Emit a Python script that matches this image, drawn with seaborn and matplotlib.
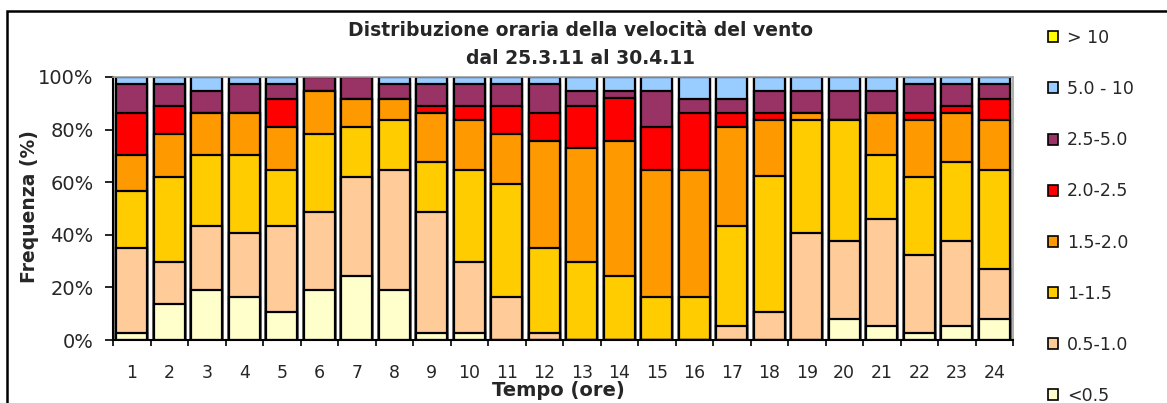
'''
Distribuzione oraria della velocita del vento - barre in pila al 100%
'''

import pandas as pd
import numpy as np
import matplotlib
matplotlib.use('Agg')
import matplotlib.pyplot as plt
from matplotlib.patches import Patch, Rectangle
from matplotlib.ticker import FixedLocator, PercentFormatter
import seaborn as sns

# --------------------------------------------------
# Dati (percentuali, 37 giorni)
# --------------------------------------------------

hours = [str(h) for h in range(1, 25)]

lt_05 = [2.7, 13.5, 18.9, 16.2, 10.8, 18.9, 24.3, 18.9, 2.7, 2.7, 0, 0,
         0, 0, 0, 0, 0, 0, 0, 8.1, 5.4, 2.7, 5.4, 8.1]
v05_10 = [32.4, 16.2, 24.3, 24.3, 32.4, 29.7, 37.8, 45.9, 45.9, 27.0, 16.2, 2.7,
          0, 0, 0, 0, 5.4, 10.8, 40.5, 29.7, 40.5, 29.7, 32.4, 18.9]
v10_15 = [21.6, 32.4, 27.0, 29.7, 21.6, 29.7, 18.9, 18.9, 18.9, 35.1, 43.2, 32.4,
          29.7, 24.3, 16.2, 16.2, 37.8, 51.4, 43.2, 45.9, 24.3, 29.7, 29.7, 37.8]
v15_20 = [13.5, 16.2, 16.2, 16.2, 16.2, 16.2, 10.8, 8.1, 18.9, 18.9, 18.9, 40.5,
          43.2, 51.4, 48.6, 48.6, 37.8, 21.6, 2.7, 0, 16.2, 21.6, 18.9, 18.9]
v20_25 = [16.2, 10.8, 0, 0, 10.8, 0, 0, 0, 2.7, 5.4, 10.8, 10.8,
          16.2, 16.2, 16.2, 21.6, 5.4, 2.7, 0, 0, 0, 2.7, 2.7, 8.1]
v25_50 = [10.8, 8.1, 8.1, 10.8, 5.4, 5.4, 8.1, 5.4, 8.1, 8.1, 8.1, 10.8,
          5.4, 2.7, 13.5, 5.4, 5.4, 8.1, 8.1, 10.8, 8.1, 10.8, 8.1, 5.4]
v50_10 = [2.7, 2.7, 5.4, 2.7, 2.7, 0, 0, 2.7, 2.7, 2.7, 2.7, 2.7,
          5.4, 5.4, 5.4, 8.1, 8.1, 5.4, 5.4, 5.4, 5.4, 2.7, 2.7, 2.7]
gt_10 = [0] * 24

series_labels = ['<0.5', '0.5-1.0', '1-1.5', '1.5-2.0', '2.0-2.5', '2.5-5.0', '5.0 - 10', '> 10']
series_values = [lt_05, v05_10, v10_15, v15_20, v20_25, v25_50, v50_10, gt_10]
series_colors = ['#FFFFCC', '#FFCC99', '#FFCC00', '#FF9900', '#FF0000', '#993366', '#99CCFF', '#FFFF00']

# dataframe con le somme cumulate per costruire la pila
df = pd.DataFrame(dict(zip(series_labels, series_values)), index=hours)
cum = df.cumsum(axis=1).clip(upper=100)

# --------------------------------------------------
# Grafico
# --------------------------------------------------

sns.set_theme(style='white')
plt.rcParams['font.family'] = ['DejaVu Sans']

fig = plt.figure(figsize=(11.67, 4.03), dpi=100)
ax = fig.add_axes([113 / 1167, 1 - 340 / 403, 900 / 1167, 263 / 403])

# disegna dal totale verso il basso, ogni barra copre quella sopra
for label, color in zip(series_labels[::-1], series_colors[::-1]):
    sns.barplot(x=cum.index, y=cum[label].values, order=hours, color=color,
                saturation=1, width=0.82, edgecolor='black', linewidth=1.6,
                errorbar=None, ax=ax)

ax.set_xlim(-0.5, 23.5)
ax.set_ylim(0, 100)
ax.set_yticks(np.arange(0, 101, 20))
ax.yaxis.set_major_formatter(PercentFormatter(decimals=0))
ax.tick_params(axis='y', left=True, direction='out', length=6, width=1.2,
               pad=8, labelsize=14, color='black')
ax.tick_params(axis='x', which='major', length=0, pad=17, labelsize=12.5)
ax.xaxis.set_minor_locator(FixedLocator(np.arange(-0.5, 24, 1)))
ax.tick_params(axis='x', which='minor', bottom=True, direction='out',
               length=4, width=1.2, color='black')

for s in ['left', 'bottom']:
    ax.spines[s].set_color('black')
    ax.spines[s].set_linewidth(1.5)
for s in ['top', 'right']:
    ax.spines[s].set_color('#A0A0A0')
    ax.spines[s].set_linewidth(1.2)

ax.set_xlabel('Tempo (ore)', fontsize=14, fontweight='bold', va='center')
ax.xaxis.set_label_coords((558 - 113) / 900, (340 - 391) / 263)
ax.set_ylabel('Frequenza (%)', fontsize=13.5, fontweight='bold', va='center')
ax.yaxis.set_label_coords((30 - 113) / 900, (340 - 207) / 263)

# titolo su due righe
fig.text(581 / 1167, 1 - 31 / 403, 'Distribuzione oraria della velocità del vento',
         ha='center', va='center', fontsize=13.5, fontweight='bold')
fig.text(581 / 1167, 1 - 59 / 403, 'dal 25.3.11 al 30.4.11',
         ha='center', va='center', fontsize=13.5, fontweight='bold')

# legenda, > 10 in alto
handles = [Patch(facecolor=c, edgecolor='black', linewidth=1.2)
           for c in series_colors[::-1]]
fig.legend(handles, series_labels[::-1], loc='center left',
           bbox_to_anchor=(1048 / 1167, 1 - 217 / 403), frameon=False,
           fontsize=12.5, handlelength=0.6, handleheight=0.6, handletextpad=0.5,
           labelspacing=1.91, borderpad=0, borderaxespad=0)

# cornice esterna
fig.patches.append(Rectangle((7 / 1167, -0.1), 1.2, 1.1 - 11 / 403,
                             transform=fig.transFigure, fill=False,
                             edgecolor='black', linewidth=1.8))

fig.savefig('out.png', dpi=100)
